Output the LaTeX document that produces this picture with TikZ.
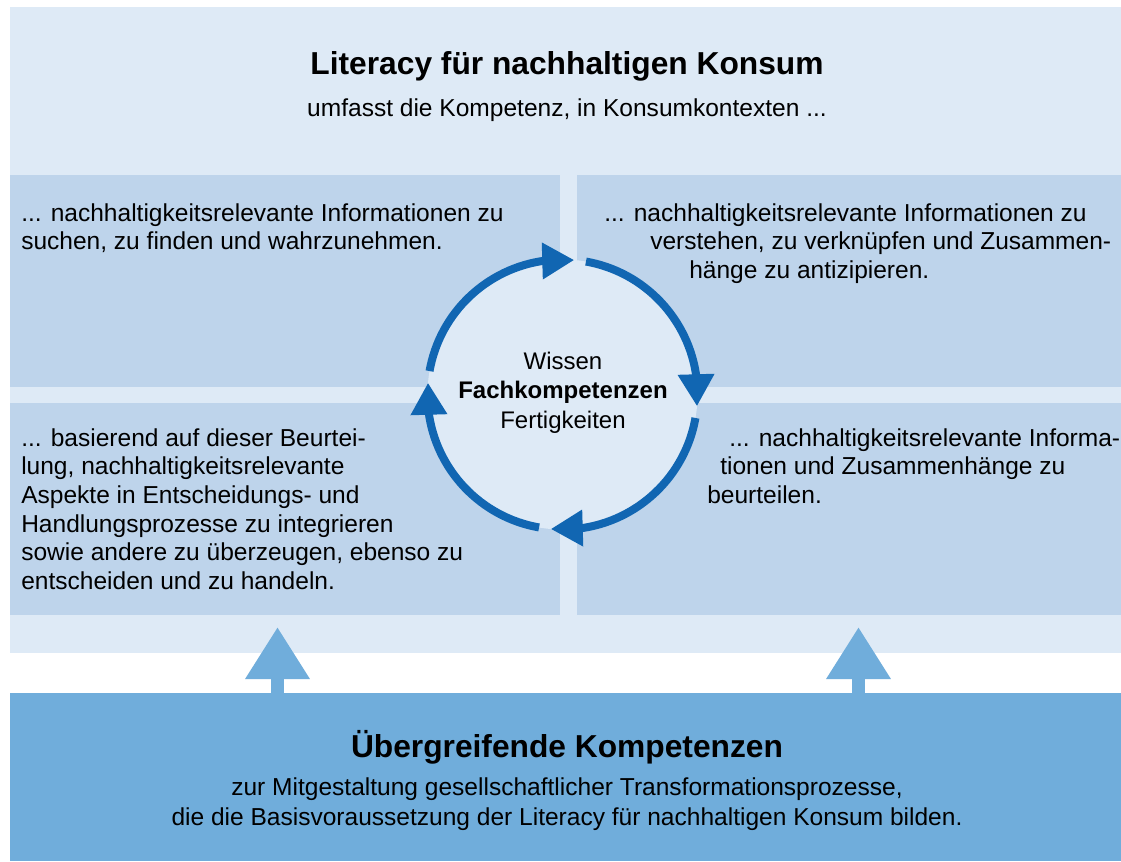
\documentclass[tikz,border=0pt]{standalone}
\usepackage{fontspec}
\setmainfont{Liberation Sans}
\usetikzlibrary{arrows.meta,bending,fit}
\definecolor{bglight}{RGB}{222,234,246}
\definecolor{quadc}{RGB}{190,212,235}
\definecolor{darkc}{RGB}{112,173,219}
\definecolor{ringc}{RGB}{17,102,178}
\begin{document}
\begin{tikzpicture}[x=0.75pt,y=-0.75pt,
  panel/.style={inner sep=0pt, outer sep=0pt, draw=none},
  txt/.style={inner sep=0pt, anchor=base west, font=\fontsize{18.4}{21}\selectfont},
  ctxt/.style={inner sep=0pt, anchor=base, font=\fontsize{18.4}{21}\selectfont},
  ttl/.style={inner sep=0pt, anchor=base, font=\fontsize{23.8}{27}\selectfont\bfseries},
  ringarrow/.style={draw=ringc, line width=6pt, -{Triangle[length=24pt,width=26pt,flex]}},
  uparrow/.style={draw=darkc, line width=9.75pt, -{Triangle[length=39pt,width=45.75pt]}}
]
\useasboundingbox (0,0) rectangle (1121,861);
\fill[white] (0,0) rectangle (1121,861);
% panels
\node[panel, fill=bglight, fit={(10,7) (1121,653)}] (bg) {};
\node[panel, fill=quadc, fit={(10,175) (560,387)}] (qtl) {};
\node[panel, fill=quadc, fit={(577,175) (1121,387)}] (qtr) {};
\node[panel, fill=quadc, fit={(10,403) (560,615)}] (qbl) {};
\node[panel, fill=quadc, fit={(577,403) (1121,615)}] (qbr) {};
\node[panel, fill=darkc, fit={(10,693) (1121,861)}] (dk) {};
% header
\node[ttl] (title) at (567,74) {Literacy für nachhaltigen Konsum};
\node[ctxt] (sub) at (567,116) {umfasst die Kompetenz, in Konsumkontexten ...};
% top-left
\node[txt] (tl1) at (21,221) {... nachhaltigkeitsrelevante Informationen zu};
\node[txt] (tl2) at (21,249.5) {suchen, zu finden und wahrzunehmen.};
% top-right
\node[txt] (tr1) at (604,221) {... nachhaltigkeitsrelevante Informationen zu};
\node[txt] (tr2) at (650,249.5) {verstehen, zu verknüpfen und Zusammen-};
\node[txt] (tr3) at (689,278) {hänge zu antizipieren.};
% bottom-right
\node[txt] (br1) at (729,446) {... nachhaltigkeitsrelevante Informa-};
\node[txt] (br2) at (720,474.7) {tionen und Zusammenhänge zu};
\node[txt] (br3) at (707,503.4) {beurteilen.};
% bottom-left
\node[txt] (bl1) at (21,446) {... basierend auf dieser Beurtei-};
\node[txt] (bl2) at (21,474.7) {lung, nachhaltigkeitsrelevante};
\node[txt] (bl3) at (21,503.4) {Aspekte in Entscheidungs- und};
\node[txt] (bl4) at (21,532.1) {Handlungsprozesse zu integrieren};
\node[txt] (bl5) at (21,560.8) {sowie andere zu überzeugen, ebenso zu};
\node[txt] (bl6) at (21,589.5) {entscheiden und zu handeln.};
% circle
\node[circle, inner sep=0pt, fill=bglight, minimum size=202.5pt] (cc) at (562.5,394.5) {};
\draw[ringarrow] (cc.center) ++(-170:135) arc[start angle=-170, end angle=-85, radius=135];
\draw[ringarrow] (cc.center) ++(-80:135) arc[start angle=-80, end angle=5, radius=135];
\draw[ringarrow] (cc.center) ++(10:135) arc[start angle=10, end angle=95, radius=135];
\draw[ringarrow] (cc.center) ++(100:135) arc[start angle=100, end angle=185, radius=135];
\node[ctxt, font=\fontsize{18}{21}\selectfont] (c1) at (563,369) {Wissen};
\node[ctxt, font=\fontsize{18}{21}\selectfont\bfseries] (c2) at (563,398) {Fachkompetenzen};
\node[ctxt, font=\fontsize{18}{21}\selectfont] (c3) at (563,428) {Fertigkeiten};
% up arrows
\coordinate (u1) at (277.5,627);
\coordinate (u2) at (858.5,627);
\draw[uparrow] (u1 |- dk.north) -- (u1);
\draw[uparrow] (u2 |- dk.north) -- (u2);
% bottom
\node[ttl] (btitle) at (567,757) {Übergreifende Kompetenzen};
\node[ctxt] (b1) at (567,795) {zur Mitgestaltung gesellschaftlicher Transformationsprozesse,};
\node[ctxt] (b2) at (567,825) {die die Basisvoraussetzung der Literacy für nachhaltigen Konsum bilden.};
\end{tikzpicture}
\end{document}
